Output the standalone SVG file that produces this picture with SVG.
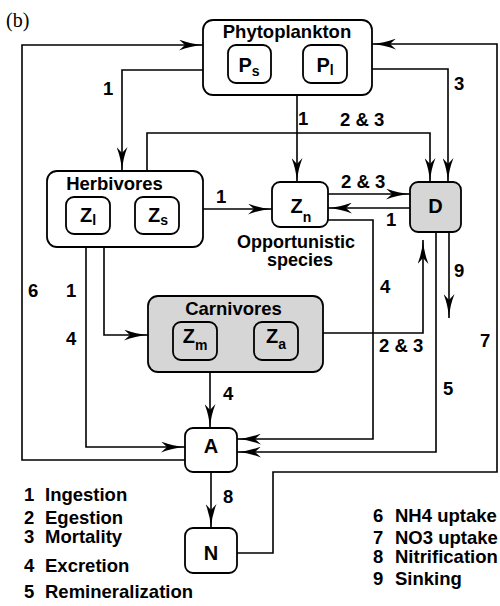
<svg xmlns="http://www.w3.org/2000/svg" width="500" height="606" viewBox="0 0 500 606">
<style>
.bx{fill:#fff;stroke:#000;stroke-width:1.8}
.sh{fill:#d6d6d6;stroke:#000;stroke-width:1.8}
.ln{fill:none;stroke:#000;stroke-width:1.6}
text{font-family:"Liberation Sans",Arial,sans-serif;font-weight:bold;fill:#000}
.t{font-size:18.5px}
.nm{font-size:20px;text-anchor:middle}
.sub{font-size:14px}
.lg{font-size:18.5px}
</style>
<defs>
<marker id="ah" markerWidth="24" markerHeight="11" refX="24" refY="5.5" orient="auto" markerUnits="userSpaceOnUse">
<path d="M0,0 Q11,4.5 24,5.5 Q11,6.5 0,11 L6,5.5 z" fill="#000"/>
</marker>
</defs>
<rect width="500" height="606" fill="#fff"/>
<text x="6" y="27" style="font-family:'Liberation Serif',serif;font-weight:normal;font-size:20px">(b)</text>

<g id="connectors">
<path class="ln" d="M203,70 H122 V171" marker-end="url(#ah)"/>
<path class="ln" d="M297,95 V182" marker-end="url(#ah)"/>
<path class="ln" d="M147,171 V133 H430 V182" marker-end="url(#ah)"/>
<path class="ln" d="M372,69 H448 V182" marker-end="url(#ah)"/>
<path class="ln" d="M179,209 H272" marker-end="url(#ah)"/>
<path class="ln" d="M328,194 H410" marker-end="url(#ah)"/>
<path class="ln" d="M410,208 H328" marker-end="url(#ah)"/>
<path class="ln" d="M328,220 H373 V439 H237" marker-end="url(#ah)"/>
<path class="ln" d="M436,232 V452 H237" marker-end="url(#ah)"/>
<path class="ln" d="M449,232 V318" marker-end="url(#ah)"/>
<path class="ln" d="M323,333 H423 V240" marker-end="url(#ah)"/>
<path class="ln" d="M104,247 V335 H148" marker-end="url(#ah)"/>
<path class="ln" d="M86,247 V447 H185" marker-end="url(#ah)"/>
<path class="ln" d="M210,372 V428" marker-end="url(#ah)"/>
<path class="ln" d="M185,460 H22 V45 H203" marker-end="url(#ah)"/>
<path class="ln" d="M211,472 V528" marker-end="url(#ah)"/>
<path class="ln" d="M237,553 H273 V472 H497 V44 H372" marker-end="url(#ah)"/>
<text class="t" x="103" y="95">1</text>
<text class="t" x="298" y="125">1</text>
<text class="t" x="340" y="126">2 &amp; 3</text>
<text class="t" x="454" y="90">3</text>
<text class="t" x="216" y="203">1</text>
<text class="t" x="341" y="188">2 &amp; 3</text>
<text class="t" x="386" y="226">1</text>
<text class="t" x="380" y="293">4</text>
<text class="t" x="454" y="277">9</text>
<text class="t" x="443" y="395">5</text>
<text class="t" x="379" y="352">2 &amp; 3</text>
<text class="t" x="480" y="347">7</text>
<text class="t" x="66" y="297">1</text>
<text class="t" x="66" y="345">4</text>
<text class="t" x="28" y="297">6</text>
<text class="t" x="223" y="400">4</text>
<text class="t" x="223" y="503">8</text>
</g>

<g id="phytoplankton">
<rect class="bx" x="203" y="20" width="169" height="75" rx="10"/>
<text class="t" x="287" y="38" text-anchor="middle">Phytoplankton</text>
</g>
<g id="Ps">
<rect class="bx" x="228" y="45" width="43" height="38" rx="8"/>
<text class="nm" x="249" y="72">P<tspan class="sub" dy="4">s</tspan></text>
</g>
<g id="Pl">
<rect class="bx" x="303" y="45" width="44" height="38" rx="8"/>
<text class="nm" x="325" y="72">P<tspan class="sub" dy="3">l</tspan></text>
</g>

<g id="herbivores">
<rect class="bx" x="47" y="171" width="156" height="76" rx="10"/>
<text class="t" x="114.5" y="190" text-anchor="middle">Herbivores</text>
</g>
<g id="Zl">
<rect class="bx" x="66" y="197" width="44" height="37" rx="8"/>
<text class="nm" x="88" y="222">Z<tspan class="sub" dy="3">l</tspan></text>
</g>
<g id="Zs">
<rect class="bx" x="135" y="197" width="44" height="37" rx="8"/>
<text class="nm" x="158" y="222">Z<tspan class="sub" dy="3">s</tspan></text>
</g>

<g id="Zn">
<rect class="bx" x="272" y="182" width="56" height="45" rx="8"/>
<text class="nm" x="301" y="213">Z<tspan class="sub" dy="9">n</tspan></text>
</g>
<g id="opportunistic">
<text class="t" x="296" y="248" text-anchor="middle" style="font-size:18px">Opportunistic</text>
<text class="t" x="300" y="266" text-anchor="middle" style="font-size:18px">species</text>
</g>

<g id="D">
<rect class="sh" x="410" y="182" width="51" height="50" rx="8"/>
<text class="nm" x="435.5" y="213">D</text>
</g>

<g id="carnivores">
<rect class="sh" x="148" y="296" width="175" height="76" rx="10"/>
<text class="t" x="233.5" y="315" text-anchor="middle">Carnivores</text>
</g>
<g id="Zm">
<rect class="sh" x="173" y="322" width="44" height="38" rx="8"/>
<text class="nm" x="195" y="343">Z<tspan class="sub" dy="7">m</tspan></text>
</g>
<g id="Za">
<rect class="sh" x="254" y="322" width="44" height="38" rx="8"/>
<text class="nm" x="276" y="343">Z<tspan class="sub" dy="6">a</tspan></text>
</g>

<g id="A">
<rect class="bx" x="185" y="428" width="52" height="44" rx="8"/>
<text class="nm" x="211" y="453">A</text>
</g>
<g id="N">
<rect class="bx" x="185" y="528" width="52" height="45" rx="8"/>
<text class="nm" x="211" y="560">N</text>
</g>

<g id="legend">
<text class="lg" x="24" y="501">1</text><text class="lg" x="45" y="501">Ingestion</text>
<text class="lg" x="24" y="524">2</text><text class="lg" x="45" y="524">Egestion</text>
<text class="lg" x="24" y="543">3</text><text class="lg" x="45" y="543">Mortality</text>
<text class="lg" x="24" y="572">4</text><text class="lg" x="45" y="572">Excretion</text>
<text class="lg" x="24" y="598">5</text><text class="lg" x="45" y="598">Remineralization</text>
<text class="lg" x="373" y="522">6</text><text class="lg" x="395" y="522">NH4 uptake</text>
<text class="lg" x="373" y="544">7</text><text class="lg" x="395" y="544">NO3 uptake</text>
<text class="lg" x="373" y="563">8</text><text class="lg" x="395" y="563">Nitrification</text>
<text class="lg" x="373" y="585">9</text><text class="lg" x="395" y="585">Sinking</text>
</g>
</svg>
